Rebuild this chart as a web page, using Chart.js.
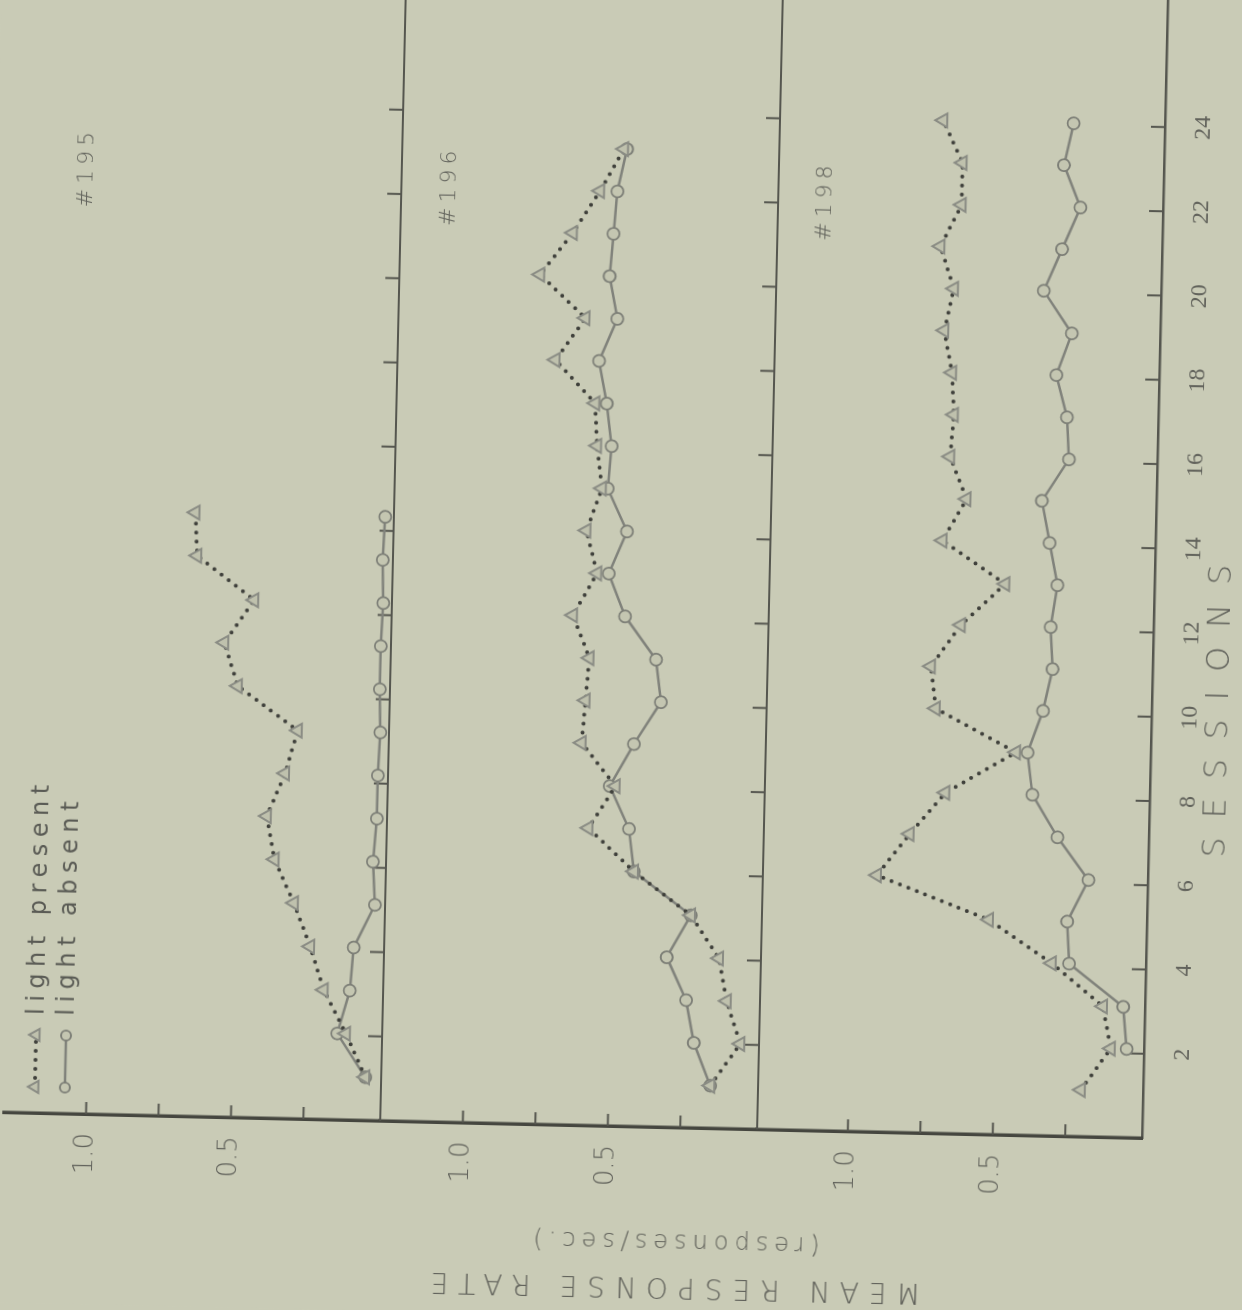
<!DOCTYPE html>
<html>
<head>
<meta charset="utf-8">
<title>Mean response rate by session</title>
<script src="https://cdn.jsdelivr.net/npm/chart.js@4.4.1/dist/chart.umd.min.js"></script>
<style>
  html, body { margin: 0; padding: 0; width: 1242px; height: 1310px; overflow: hidden; background: #c9cbb6; }
  /* the scanned figure lies on its side: draw it upright, then turn it */
  #wrap {
    position: absolute; left: 0; top: 0; width: 1346px; height: 1276px;
    transform-origin: 190px 1166px;
    transform: translate(952px, -28px) rotate(-88.7deg);
  }
</style>
</head>
<body>
<div id="wrap"><canvas id="fig" width="1346" height="1276"></canvas></div>
<script>
// values (responses/sec.)
const sessions195 = [1, 2, 3, 4, 5, 6, 7, 8, 9, 10, 11, 12, 13, 14];
const lightPresent195 = [0.04, 0.11, 0.19, 0.24, 0.30, 0.37, 0.40, 0.34, 0.30, 0.51, 0.56, 0.46, 0.66, 0.67];
const lightAbsent195 = [0.04, 0.14, 0.10, 0.09, 0.02, 0.03, 0.02, 0.02, 0.015, 0.02, 0.02, 0.015, 0.02, 0.015];

const sessions196 = [1, 2, 3, 4, 5, 6, 7, 8, 9, 10, 11, 12, 13, 14, 15, 16, 17, 18, 19, 20, 21, 22, 23];
const lightPresent196 = [0.15, 0.05, 0.10, 0.13, 0.23, 0.43, 0.59, 0.50, 0.62, 0.61, 0.60, 0.66, 0.58, 0.62, 0.57, 0.59, 0.60, 0.74, 0.64, 0.80, 0.69, 0.60, 0.52];
const lightAbsent196 = [0.15, 0.21, 0.24, 0.31, 0.23, 0.43, 0.45, 0.52, 0.44, 0.35, 0.37, 0.48, 0.54, 0.48, 0.55, 0.54, 0.56, 0.59, 0.53, 0.56, 0.55, 0.54, 0.51];

// session 1 of "light absent" for #198 is not visible in the figure
const sessions198 = [1, 2, 3, 4, 5, 6, 7, 8, 9, 10, 11, 12, 13, 14, 15, 16, 17, 18, 19, 20, 21, 22, 23, 24];
const lightPresent198 = [0.20, 0.10, 0.13, 0.31, 0.53, 0.92, 0.81, 0.69, 0.45, 0.73, 0.75, 0.65, 0.50, 0.72, 0.64, 0.70, 0.69, 0.70, 0.73, 0.70, 0.75, 0.68, 0.68, 0.75];
const lightAbsent198 = [null, 0.045, 0.06, 0.25, 0.26, 0.19, 0.30, 0.39, 0.41, 0.36, 0.33, 0.34, 0.32, 0.35, 0.38, 0.29, 0.30, 0.34, 0.29, 0.39, 0.33, 0.27, 0.33, 0.30];

const sessionTicks = [2, 4, 6, 8, 10, 12, 14, 16, 18, 20, 22, 24];
const valueTicks = [0.25, 0.5, 0.75, 1.0];
const labeledValues = [0.5, 1.0];
const panelNames = ['#195', '#196', '#198'];
const seriesNames = ['light present', 'light absent'];

const paper = '#c9cbb6';
const ink = '#55564f';
const textInk = '#62635c';

const presentStyle = {
  borderColor: '#3f403b', borderWidth: 4, borderDash: [0, 9], borderCapStyle: 'round',
  pointStyle: 'triangle', pointRadius: 8, pointBorderWidth: 2,
  pointBorderColor: '#8a8c84', pointBackgroundColor: '#bfc1ad'
};
const absentStyle = {
  borderColor: '#80827b', borderWidth: 2.5, borderDash: [],
  pointStyle: 'circle', pointRadius: 6, pointBorderWidth: 1.8,
  pointBorderColor: '#7d7f77', pointBackgroundColor: '#c4c6b1'
};

function pts(xs, ys) { return xs.map((s, i) => ({ x: s, y: ys[i] })); }

function seg(ctx, x1, y1, x2, y2) {
  ctx.beginPath(); ctx.moveTo(x1, y1); ctx.lineTo(x2, y2); ctx.stroke();
}

// paper, panel baselines, inner ticks and the texts of the figure
const figurePlugin = {
  id: 'figure',
  beforeDraw(chart) {
    const { ctx, width, height } = chart;
    ctx.save();
    ctx.fillStyle = paper;
    ctx.fillRect(0, 0, width, height);
    ctx.restore();
  },
  beforeDatasetsDraw(chart) {
    const { ctx, chartArea: area, scales } = chart;
    const xs = scales.x;
    ctx.save();
    ctx.strokeStyle = ink;
    ctx.lineCap = 'butt';
    ['y195', 'y196', 'y198'].forEach((id, i) => {
      const ys = scales[id];
      const base = ys.bottom;
      if (i < 2) {
        ctx.lineWidth = 2;
        seg(ctx, area.left, base, area.right, base);
      }
      ctx.lineWidth = 2;
      sessionTicks.forEach(s => {
        const px = xs.getPixelForValue(s);
        seg(ctx, px, base, px, base - 14);
      });
      valueTicks.forEach(v => {
        const py = ys.getPixelForValue(v);
        seg(ctx, area.left, py, area.left + 12, py);
      });
    });
    ctx.restore();
  },
  afterDraw(chart) {
    const { ctx, chartArea: area, scales } = chart;
    const xs = scales.x;
    ctx.save();
    ctx.fillStyle = textInk;

    // panel names
    ctx.font = '300 22px "DejaVu Sans"';
    ctx.letterSpacing = '5px';
    ctx.textAlign = 'center';
    ctx.textBaseline = 'middle';
    const namePos = [[22.4, 1.07], [22.15, 1.12], [22.0, 1.15]];
    ['y195', 'y196', 'y198'].forEach((id, i) => {
      ctx.fillText(panelNames[i], xs.getPixelForValue(namePos[i][0]) + 3, scales[id].getPixelForValue(namePos[i][1]));
    });

    // session axis title
    ctx.font = '300 32px "DejaVu Sans"';
    ctx.letterSpacing = '19px';
    ctx.fillText('SESSIONS', xs.getPixelForValue(10.16) + 10, area.bottom + 68);

    // response rate title, reads bottom to top
    ctx.save();
    ctx.translate(area.left - 158, area.bottom - 463);
    ctx.rotate(-Math.PI / 2);
    ctx.font = '300 28px "DejaVu Sans"';
    ctx.letterSpacing = '10px';
    ctx.fillText('MEAN RESPONSE RATE', 5, 0);
    ctx.restore();
    ctx.save();
    ctx.translate(area.left - 113, area.bottom - 463);
    ctx.rotate(-Math.PI / 2);
    ctx.font = '300 24px "DejaVu Sans"';
    ctx.letterSpacing = '6px';
    ctx.fillText('(responses/sec.)', 3, 0);
    ctx.restore();

    // legend, top left of the first panel
    const rows = [
      { y: area.top + 30, st: presentStyle },
      { y: area.top + 60, st: absentStyle }
    ];
    const x1 = area.left + 26, x2 = area.left + 78, tx = area.left + 98;
    rows.forEach((r, i) => {
      const st = r.st;
      ctx.save();
      ctx.strokeStyle = st.borderColor;
      ctx.lineWidth = st.borderWidth;
      ctx.setLineDash(st.borderDash);
      ctx.lineCap = st.borderCapStyle || 'butt';
      seg(ctx, x1, r.y, x2, r.y);
      ctx.restore();
      [x1, x2].forEach(px => {
        ctx.save();
        ctx.fillStyle = st.pointBackgroundColor;
        ctx.strokeStyle = st.pointBorderColor;
        ctx.lineWidth = st.pointBorderWidth;
        Chart.helpers.drawPoint(ctx, { pointStyle: st.pointStyle, radius: st.pointRadius - 1, rotation: 0, borderWidth: st.pointBorderWidth }, px, r.y);
        ctx.restore();
      });
      ctx.font = '24px "DejaVu Sans"';
      ctx.letterSpacing = '6.5px';
      ctx.textAlign = 'left';
      ctx.fillStyle = '#5a5b55';
      ctx.fillText(seriesNames[i], tx, r.y + 1);
    });
    ctx.restore();
  }
};

// panel heights in pixels differ a little in the figure, so the stack weights do too
function panelScale(weight, stackWeight, max) {
  return {
    type: 'linear', position: 'left', stack: 'panels', stackWeight: stackWeight, weight: weight,
    min: -0.015, max: max, offset: false,
    grid: { display: false },
    border: { display: true, color: '#45463f', width: 3.5 },
    afterBuildTicks: s => { s.ticks = valueTicks.map(v => ({ value: v })); },
    afterFit: s => { s.width = 190; },
    ticks: {
      autoSkip: false, padding: 11, color: textInk,
      font: { family: 'DejaVu Sans', size: 26, weight: 300 },
      callback: v => labeledValues.includes(v) ? v.toFixed(1) : ''
    }
  };
}

// the hand-plotted panels are spaced a little differently from the printed session ticks
function plotScale(min, max) {
  return { type: 'linear', position: 'bottom', display: false, min: min, max: max };
}

const datasets = [
  { data: pts(sessions195, lightPresent195), xAxisID: 'x195', yAxisID: 'y195', ...presentStyle },
  { data: pts(sessions195, lightAbsent195), xAxisID: 'x195', yAxisID: 'y195', ...absentStyle },
  { data: pts(sessions196, lightPresent196), xAxisID: 'x196', yAxisID: 'y196', ...presentStyle },
  { data: pts(sessions196, lightAbsent196), xAxisID: 'x196', yAxisID: 'y196', ...absentStyle },
  { data: pts(sessions198, lightPresent198), xAxisID: 'x198', yAxisID: 'y198', ...presentStyle },
  { data: pts(sessions198, lightAbsent198), xAxisID: 'x198', yAxisID: 'y198', ...absentStyle }
].map(d => ({ ...d, tension: 0, fill: false }));

new Chart(document.getElementById('fig'), {
  type: 'line',
  data: { datasets: datasets },
  options: {
    responsive: false,
    devicePixelRatio: 1,
    animation: false,
    layout: { padding: { top: 28, left: 0, right: 0, bottom: 0 } },
    plugins: { legend: { display: false }, tooltip: { enabled: false } },
    scales: {
      x: {
        type: 'linear', position: 'bottom', min: 0, max: 27.2,
        grid: { display: false },
        border: { display: true, color: ink, width: 2.5 },
        afterBuildTicks: s => { s.ticks = sessionTicks.map(v => ({ value: v })); },
        afterFit: s => { s.height = 110; },
        ticks: {
          autoSkip: false, maxRotation: 0, padding: 16, color: textInk,
          font: { family: 'Liberation Sans Narrow', size: 24 },
          callback: v => String(v)
        }
      },
      x195: plotScale(0, 26.57),
      x196: plotScale(0, 26.98),
      x198: plotScale(-0.11, 27.17),
      y195: panelScale(3, 376, 1.282),
      y196: panelScale(2, 377, 1.285),
      y198: panelScale(1, 385, 1.313)
    }
  },
  plugins: [figurePlugin]
});
</script>
</body>
</html>
